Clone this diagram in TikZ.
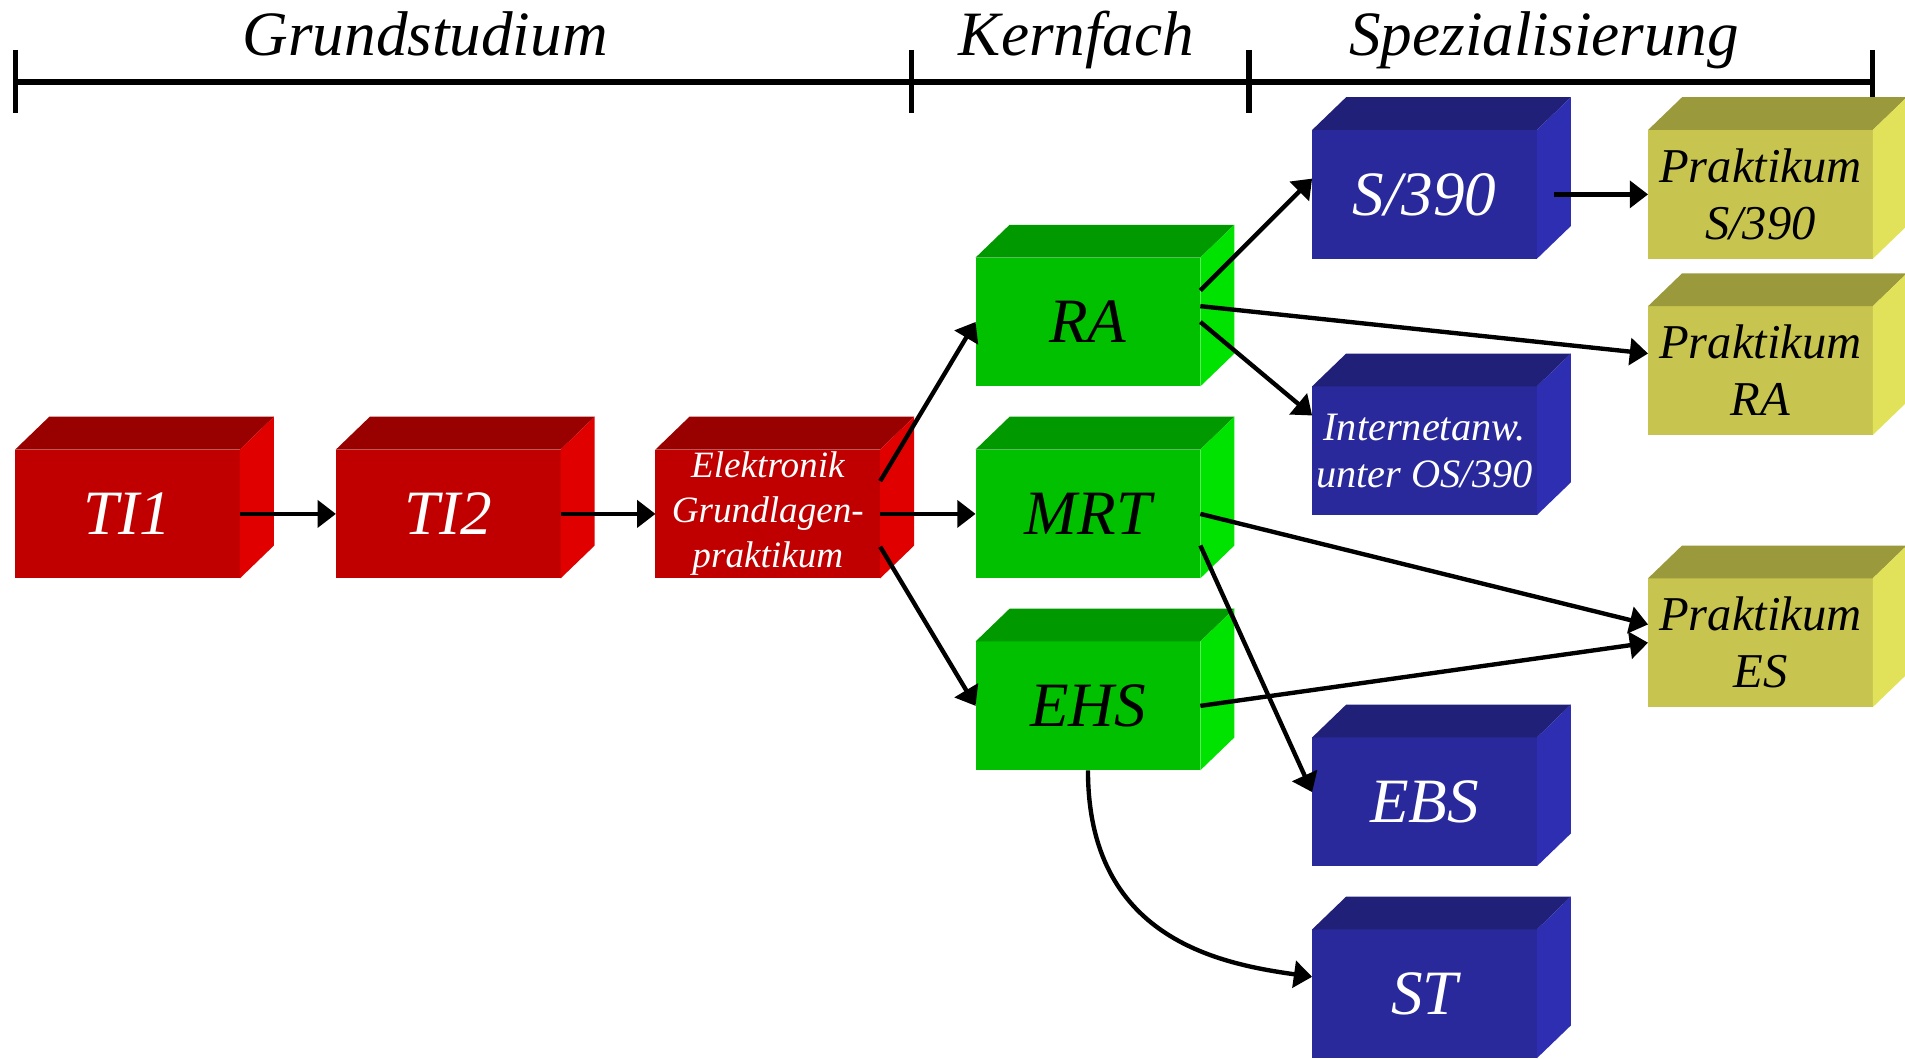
\documentclass[tikz,border=0pt]{standalone}
\usepackage{fontspec}
\setmainfont{Liberation Serif}
\usepackage{tikz}
\usetikzlibrary{arrows.meta,calc}
\definecolor{frontred}{RGB}{192,0,0}
\definecolor{topred}{RGB}{153,0,0}
\definecolor{sidered}{RGB}{224,0,0}
\definecolor{frontgreen}{RGB}{0,192,0}
\definecolor{topgreen}{RGB}{0,153,0}
\definecolor{sidegreen}{RGB}{0,226,0}
\definecolor{frontblue}{RGB}{41,41,155}
\definecolor{topblue}{RGB}{32,32,120}
\definecolor{sideblue}{RGB}{46,46,178}
\definecolor{frontyellow}{RGB}{200,196,80}
\definecolor{topyellow}{RGB}{154,154,60}
\definecolor{sideyellow}{RGB}{226,226,90}
\tikzset{
box/.style={rectangle,minimum width=92.5pt,minimum height=53pt,
inner sep=0pt,outer sep=0pt,align=center,
font=\fontsize{26}{30}\selectfont\itshape},
redbox/.style={box,fill=frontred,text=white},
greenbox/.style={box,fill=frontgreen,text=black},
bluebox/.style={box,fill=frontblue,text=white},
yellowbox/.style={box,fill=frontyellow,text=black},
phase/.style={anchor=base,font=\fontsize{26}{30}\selectfont\itshape},
pfeil/.style={line width=1.8pt,-{Triangle[length=7.5pt,width=11pt]}}
}
\begin{document}
\begin{tikzpicture}[x=0.5pt,y=-0.5pt]
\useasboundingbox (0,0) rectangle (1568,871);

% Zeitleiste
\draw[line width=2.2pt] (13,67.5) -- (1541,67.5);
\foreach \x in {13,750,1028,1541}
  \draw[line width=2.2pt] (\x,41) -- (\x,93);
\node[phase] (grund) at (350,46) {Grundstudium};
\node[phase] (kern) at (886,46) {Kernfach};
\node[phase] (spez) at (1271,46) {Spezialisierung};

% Grundstudium
\node[redbox] (TI1) at (105,423) {TI1};
\node[redbox] (TI2) at (369,423) {TI2};
\node[redbox,font=\fontsize{15.3}{18.5}\selectfont\itshape] (EGP) at (632,423)
  {Elektronik\\Grundlagen-\\praktikum};

% Kernfach
\node[greenbox] (RA) at (895.5,265) {RA};
\node[greenbox] (MRT) at (895.5,423) {MRT};
\node[greenbox] (EHS) at (895.5,581) {EHS};

% Spezialisierung
\node[bluebox] (S390) at (1172.5,160) {S/390};
\node[bluebox,font=\fontsize{16.6}{19.5}\selectfont\itshape] (INET) at (1172.5,371)
  {Internetanw.\\unter OS/390};
\node[bluebox] (EBS) at (1172.5,660) {EBS};
\node[bluebox] (ST) at (1172.5,818) {ST};
\node[yellowbox,font=\fontsize{20}{23.5}\selectfont\itshape] (PS390) at (1449,160)
  {Praktikum\\S/390};
\node[yellowbox,font=\fontsize{20}{23.5}\selectfont\itshape] (PRA) at (1449,305)
  {Praktikum\\RA};
\node[yellowbox,font=\fontsize{20}{23.5}\selectfont\itshape] (PES) at (1449,529)
  {Praktikum\\ES};

% Deckel und Seiten
\foreach \n/\k in {TI1/red,TI2/red,EGP/red,RA/green,MRT/green,EHS/green,
  S390/blue,INET/blue,EBS/blue,ST/blue,PS390/yellow,PRA/yellow,PES/yellow}{
  \fill[fill=top\k] (\n.north west) -- ++(28,-27)
    -- ($(\n.north east)+(28,-27)$) -- (\n.north east) -- cycle;
  \fill[fill=side\k] (\n.north east) -- ++(28,-27)
    -- ($(\n.south east)+(28,-27)$) -- (\n.south east) -- cycle;
}

\draw[pfeil] (TI1.east) -- (TI2.west);
\draw[pfeil] (TI2.east) -- (EGP.west);
\draw[pfeil] ($(EGP.east)+(0,-27)$) -- (RA.west);
\draw[pfeil] (EGP.east) -- (MRT.west);
\draw[pfeil] ($(EGP.east)+(0,27)$) -- (EHS.west);
\draw[pfeil] ($(RA.east)+(0,-26)$) -- ($(S390.west)+(0,-13)$);
\draw[pfeil] ($(RA.east)+(0,-13)$) -- ($(PRA.west)+(0,-14)$);
\draw[pfeil] (RA.east) -- ($(INET.west)+(0,-29)$);
\draw[pfeil] ($(S390.east)+(14,0)$) -- (PS390.west);
\draw[pfeil] (MRT.east) -- ($(PES.west)+(0,-15)$);
\draw[pfeil] ($(MRT.east)+(0,26)$) -- ($(EBS.west)+(0,-8)$);
\draw[pfeil] (EHS.east) -- (PES.west);
\draw[pfeil] (EHS.south) to[out=-90,in=172,out looseness=1.4,in looseness=0.8]
  ($(ST.west)+(0,-14)$);

\end{tikzpicture}
\end{document}
